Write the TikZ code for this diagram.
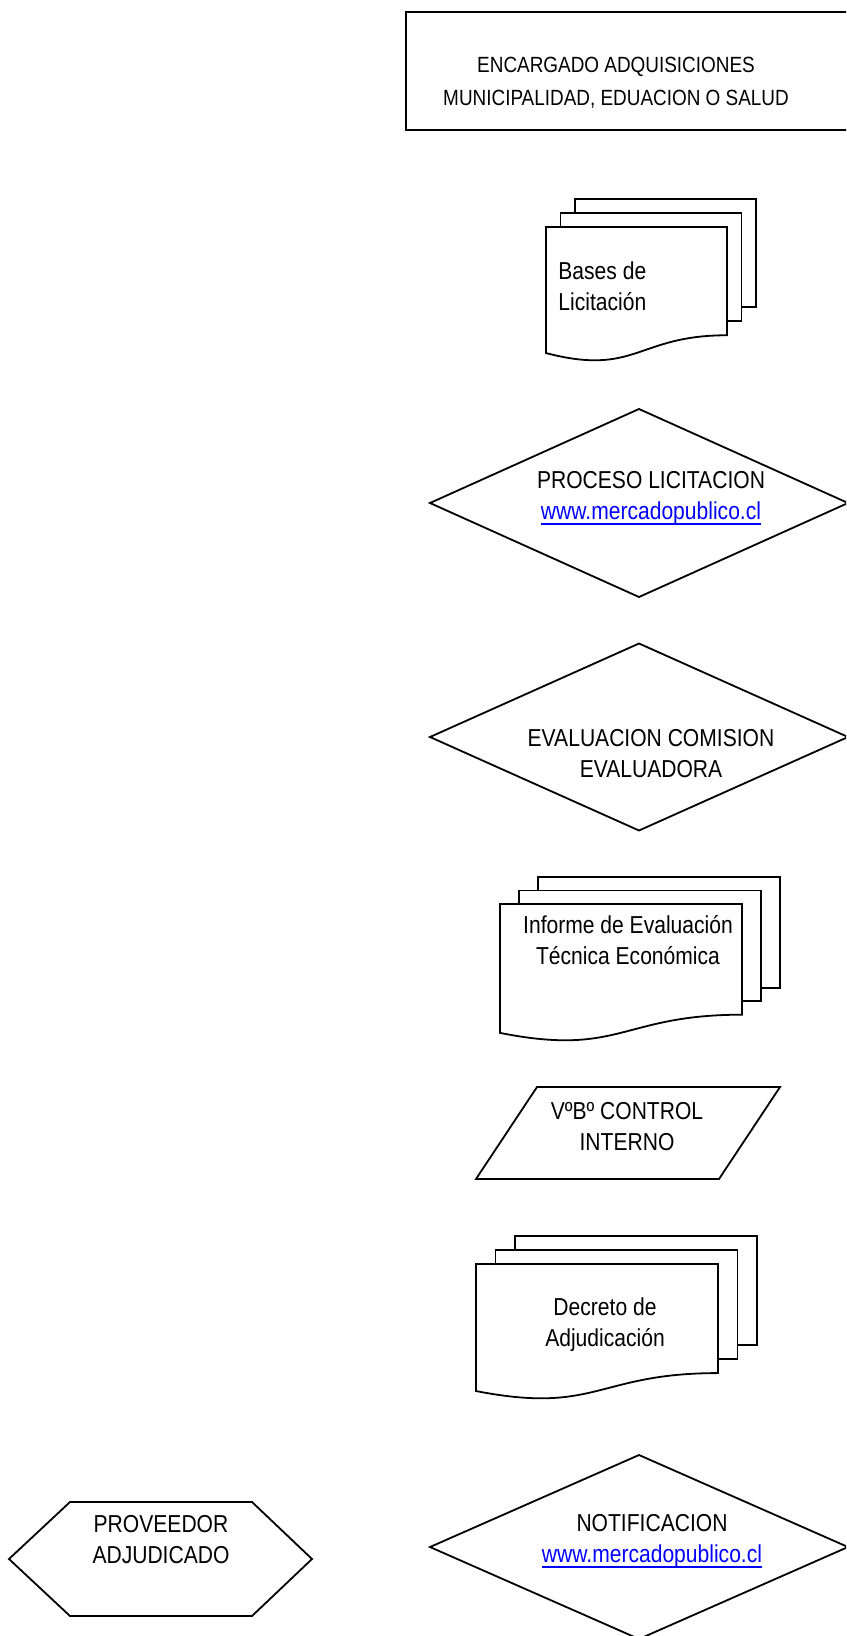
\documentclass[tikz,border=0pt]{standalone}
\usepackage{fontspec}
\setmainfont[FakeStretch=0.86]{Liberation Sans}
\usepackage{xcolor}
\definecolor{weblink}{HTML}{0000FF}
\newcommand{\mainfs}{\fontsize{12.25pt}{15.5pt}\selectfont}
\newcommand{\headfs}{\fontsize{11pt}{16.5pt}\selectfont}
\newcommand{\mpurl}[1]{{\color{weblink}\setbox0\hbox{#1}\rlap{\rule[-2.5pt]{\wd0}{0.9pt}}\box0}}
% stack of three pages: front corner x,y, width, height, page shift dx,dy
\newcommand{\docstack}[6]{%
  \draw[outline] (#1+2*#5,#2-2*#6) rectangle (#1+2*#5+#3,#2-2*#6+0.802*#4);
  \draw[outline] (#1+#5,#2-#6) rectangle (#1+#5+#3,#2-#6+0.802*#4);
  \draw[outline] (#1,#2) -- (#1+#3,#2) -- (#1+#3,#2+0.802*#4)
    .. controls (#1+0.5*#3,#2+0.802*#4) and (#1+0.5*#3,#2+1.108*#4) .. (#1,#2+0.934*#4) -- cycle;
}

\begin{document}
\begin{tikzpicture}[x=0.5pt,y=-0.5pt,
  outline/.style={draw=black,line width=0.9pt,fill=white},
  txt/.style={inner sep=0pt,font=\mainfs,align=center}]
 \useasboundingbox (0,0) rectangle (846,1636);
 \clip (0,0) rectangle (846,1636);
 % encargado
 \draw[outline] (406,12) rectangle (852,130);
 \node[txt,font=\headfs] (encargado) at (616,82.3) {ENCARGADO ADQUISICIONES\\MUNICIPALIDAD, EDUACION O SALUD};
 % bases
 \docstack{546}{227}{181}{135}{14.5}{14}
 \node[txt,align=left,anchor=west] (bases) at (558,285.75) {Bases de\\Licitación};
 % proceso
 \draw[outline] (430,503) -- (639,409) -- (848,503) -- (639,597) -- cycle;
 \node[txt] (proceso) at (651,498.3) {PROCESO LICITACION\\\mpurl{www.mercadopublico.cl}};
 % evaluacion
 \draw[outline] (430,737) -- (639,643.5) -- (848,737) -- (639,830.5) -- cycle;
 \node[txt] (evaluacion) at (651,753.75) {EVALUACION COMISION\\EVALUADORA};
 % informe
 \docstack{500}{904}{242}{138}{19}{13.5}
 \node[txt] (informe) at (628,939.75) {Informe de Evaluación\\Técnica Económica};
 % vobo
 \draw[outline] (537,1087) -- (780,1087) -- (719,1179) -- (476,1179) -- cycle;
 \node[txt] (vobo) at (627,1126.75) {VºBº CONTROL\\INTERNO};
 % decreto
 \docstack{476}{1264}{242}{136}{19.5}{14}
 \node[txt] (decreto) at (605,1324.3) {Decreto de\\Adjudicación};
 % notificacion
 \draw[outline] (430,1547) -- (639,1455) -- (848,1547) -- (639,1639) -- cycle;
 \node[txt] (notificacion) at (652,1541.3) {NOTIFICACION\\\mpurl{www.mercadopublico.cl}};
 % proveedor
 \draw[outline] (9,1559) -- (70,1502) -- (252,1502) -- (312,1559) -- (252,1616) -- (70,1616) -- cycle;
 \node[txt] (proveedor) at (161,1539.75) {PROVEEDOR\\ADJUDICADO};
\end{tikzpicture}
\end{document}
